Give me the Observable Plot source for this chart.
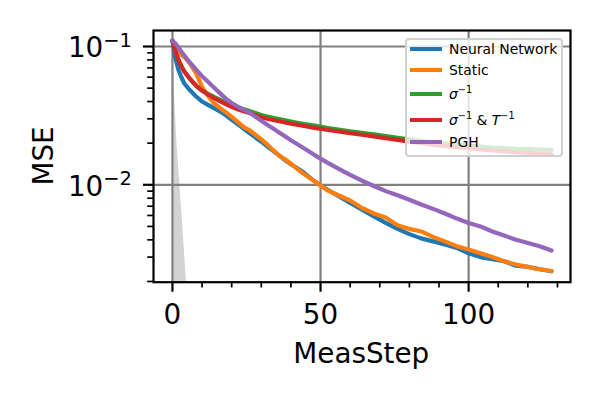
<!DOCTYPE html>
<html>
<head>
<meta charset="utf-8">
<script src="https://cdn.jsdelivr.net/npm/d3@7"></script>
<script src="https://cdn.jsdelivr.net/npm/@observablehq/plot@0.6"></script>
<style>
  html, body { margin: 0; padding: 0; background: white; }
  #wrap { position: relative; width: 600px; height: 400px; font-family: "DejaVu Sans", sans-serif; }
  .legend { position: absolute; background: rgba(255,255,255,0.8); border: 2px solid #d0d0d0; border-radius: 4px; box-sizing: border-box; }
  .lrow { position: absolute; font-size: 13.9px; line-height: 1; white-space: nowrap; color: #000; }
  .lhandle { position: absolute; height: 4.2px; }
  .lrow sup { font-size: 9.7px; vertical-align: 0; position: relative; top: -6px; }
</style>
</head>
<body>
<div id="wrap"></div>
<script>
const steps = [0,1,2,3,4,6,8,10,12,14,16,18,20,22,24,26,28,30,32,34,36,38,40,44,48,52,56,60,64,68,72,76,80,84,88,92,96,100,104,108,112,116,120,124,128];

const neuralNetwork = [0.110,0.082,0.068,0.060,0.054,0.048,0.0435,0.040,0.0378,0.0358,0.034,0.0318,0.0295,0.0275,0.0255,0.0237,0.022,0.0205,0.019,0.0176,0.0163,0.0151,0.0141,0.0124,0.0106,0.0093,0.0083,0.0074,0.0066,0.0059,0.0053,0.0048,0.0044,0.0041,0.0039,0.0037,0.0035,0.0032,0.0030,0.0029,0.0028,0.0026,0.00255,0.00245,0.00237];

const staticMSE = [0.110,0.100,0.092,0.087,0.084,0.075,0.064,0.051,0.044,0.039,0.036,0.0335,0.031,0.0285,0.0262,0.0248,0.0230,0.0213,0.0196,0.0178,0.0163,0.0153,0.0142,0.0121,0.0106,0.0092,0.0084,0.0077,0.0068,0.0062,0.0058,0.0051,0.0048,0.0046,0.0042,0.0039,0.0036,0.0034,0.0032,0.0030,0.0028,0.00265,0.00255,0.00245,0.00238];

const sigmaInv = [0.110,0.092,0.080,0.072,0.066,0.058,0.052,0.048,0.0455,0.0432,0.0412,0.0394,0.0378,0.0364,0.0352,0.0341,0.0331,0.0320,0.0312,0.0305,0.0299,0.0293,0.0287,0.0276,0.0268,0.0258,0.0251,0.0244,0.0238,0.0232,0.0225,0.0219,0.0213,0.0208,0.0203,0.0199,0.0196,0.0192,0.0189,0.0186,0.0184,0.0182,0.0181,0.0180,0.0179];

const sigmaTInv = [0.110,0.092,0.080,0.072,0.066,0.058,0.052,0.048,0.045,0.0425,0.0403,0.0383,0.0366,0.0352,0.0340,0.0330,0.0320,0.0308,0.0300,0.0294,0.0288,0.0282,0.0277,0.0267,0.0258,0.0250,0.0243,0.0236,0.0230,0.0224,0.0217,0.0211,0.0205,0.0200,0.0195,0.0191,0.0187,0.0184,0.0180,0.0177,0.0175,0.0172,0.0170,0.0168,0.0166];

const pgh = [0.110,0.105,0.099,0.092,0.086,0.076,0.068,0.061,0.0555,0.0505,0.046,0.042,0.039,0.0368,0.0350,0.0333,0.031,0.029,0.0272,0.0255,0.0239,0.0224,0.0210,0.0186,0.0164,0.0146,0.0131,0.0118,0.0107,0.0098,0.0090,0.0084,0.0078,0.0072,0.0067,0.0062,0.0057,0.0053,0.0050,0.0046,0.0043,0.0040,0.0038,0.0036,0.00335];

// shaded gray region: right edge (steps) at given MSE levels
const shadeMSE  = [0.110, 0.05, 0.02, 0.01, 0.005, 0.002, 0.0015];
const shadeStep = [0,     0.6,  1.5,  2.5,  3.5,   4.7,   5.3];

const seriesNames  = ["Neural Network", "Static", "σ^-1", "σ^-1 & T^-1", "PGH"];
const seriesColors = ["#1f77b4", "#ff7f0e", "#2ca02c", "#d62728", "#9467bd"];
const seriesValues = [neuralNetwork, staticMSE, sigmaInv, sigmaTInv, pgh];

const xMajor = [0, 50, 100];
const xMinor = [10, 20, 30, 40, 60, 70, 80, 90, 110, 120, 130];
const yMajor = [0.01, 0.1];
const yMinor = [0.002,0.003,0.004,0.005,0.006,0.007,0.008,0.009,0.02,0.03,0.04,0.05,0.06,0.07,0.08,0.09];

const rows = [];
seriesValues.forEach((vals, i) => vals.forEach((v, j) => rows.push({step: steps[j], mse: v, s: i})));
const shade = shadeMSE.map((m, i) => ({mse: m, step: shadeStep[i]}));

const gridStyle = {stroke: "#808080", strokeOpacity: 1, strokeWidth: 2.2};

const chart = Plot.plot({
  width: 600, height: 400,
  marginLeft: 153, marginRight: 30, marginTop: 30, marginBottom: 118.3,
  x: {domain: [-6.4, 134.4]},
  y: {type: "log", domain: [0.001976, 0.1305]},
  style: {fontFamily: "DejaVu Sans", fontSize: "27.8px", background: "white", color: "black"},
  marks: [
    Plot.areaX(shade, {y: "mse", x1: 0, x2: "step", fill: "#d3d3d3", clip: true}),
    Plot.gridX(xMajor, gridStyle),
    Plot.gridY(yMajor, gridStyle),
    ...seriesValues.map((_, i) => Plot.line(rows.filter(r => r.s === i), {x: "step", y: "mse", stroke: seriesColors[i], strokeWidth: 4.2, clip: true})),
    Plot.frame({stroke: "black", strokeWidth: 2.2}),
    Plot.axisX(xMajor, {tickSize: 10, strokeWidth: 2.2, tickPadding: 12, label: null, fontSize: 27.8}),
    Plot.axisX(xMinor, {tickSize: 5.8, strokeWidth: 1.7, tickFormat: () => "", label: null}),
    Plot.axisY(yMajor, {tickSize: 10, strokeWidth: 2.2, tickFormat: () => "", label: null}),
    Plot.axisY(yMinor, {tickSize: 5.8, strokeWidth: 1.7, tickFormat: () => "", label: null})
  ]
});

const wrap = document.getElementById("wrap");
wrap.appendChild(chart);

// y tick labels as 10^k with superscripts, placed via the plot's y scale
const ys = chart.scale("y");
const svg = d3.select(chart);
yMajor.forEach(v => {
  const py = ys.apply(v);
  const t = svg.append("text").attr("x", 132).attr("y", py + 11.3)
    .attr("text-anchor", "end").attr("font-family", "DejaVu Sans").attr("font-size", 27.8).attr("fill", "black");
  t.append("tspan").text("10");
  t.append("tspan").attr("dy", -10.6).attr("font-size", 19.5).text("\u2212" + Math.round(-Math.log10(v)));
});

// axis titles
svg.append("text").attr("x", 361.3).attr("y", 363).attr("text-anchor", "middle")
  .attr("font-family", "DejaVu Sans").attr("font-size", 27.8).attr("fill", "black").text("MeasStep");
svg.append("text").attr("transform", "translate(53,156) rotate(-90)").attr("text-anchor", "middle")
  .attr("font-family", "DejaVu Sans").attr("font-size", 27.8).attr("fill", "black").text("MSE");

// legend (semi-transparent, upper right inside axes)
const legend = document.createElement("div");
legend.className = "legend";
Object.assign(legend.style, {left: "405px", top: "37.5px", width: "158px", height: "119px"});
wrap.appendChild(legend);
const rowCenters = [49, 70, 94, 120, 141.7];
function labelHTML(name) {
  if (name === "σ^-1") return '<i>σ</i><sup>\u22121</sup>';
  if (name === "σ^-1 & T^-1") return '<i>σ</i><sup>\u22121</sup> &amp; <i>T</i><sup>\u22121</sup>';
  return name;
}
seriesNames.forEach((name, i) => {
  const h = document.createElement("div");
  h.className = "lhandle";
  Object.assign(h.style, {left: "3px", top: (rowCenters[i] - 37.5 - 2 - 2.1) + "px", width: "32px", background: seriesColors[i]});
  legend.appendChild(h);
  const r = document.createElement("div");
  r.className = "lrow";
  r.innerHTML = labelHTML(name);
  Object.assign(r.style, {left: "42px", top: (rowCenters[i] - 37.5 - 2 - 6) + "px"});
  legend.appendChild(r);
});
</script>
</body>
</html>
